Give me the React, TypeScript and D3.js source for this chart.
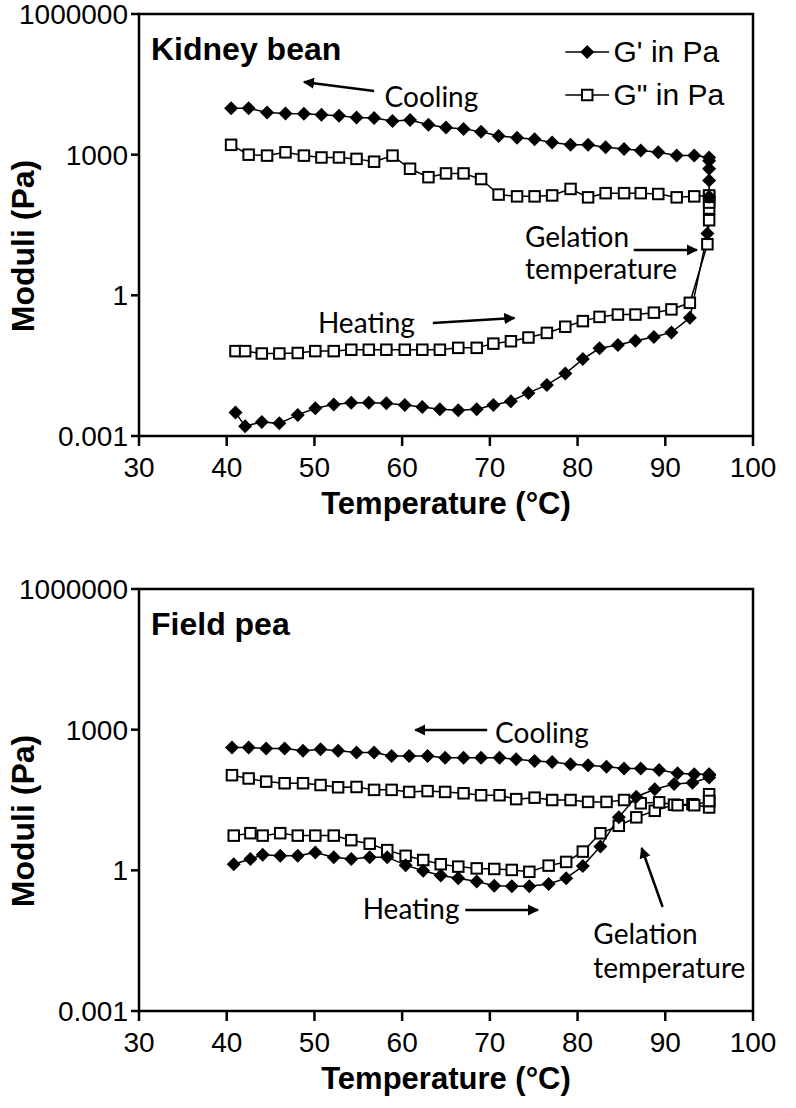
import React from 'react';
import * as d3 from 'd3';

// ---------- axes ----------
const xTicks = [30, 40, 50, 60, 70, 80, 90, 100];
const yTicks = [0.001, 1, 1000, 1000000];
const yTickLabels = ['0.001', '1', '1000', '1000000'];

// ---------- Kidney bean ----------
const kbHeatT = [41.0, 42.1, 44.0, 46.0, 48.1, 50.1, 52.2, 54.2, 56.2, 58.2, 60.3, 62.3, 64.3, 66.4, 68.5, 70.4, 72.4, 74.4, 76.5, 78.6, 80.6, 82.5, 84.6, 86.6, 88.7, 90.7, 92.8, 94.8];
const kbHeatG1 = [0.00316, 0.00162, 0.0020, 0.00186, 0.00282, 0.00389, 0.00468, 0.00513, 0.00513, 0.00501, 0.00457, 0.00417, 0.00372, 0.00355, 0.00372, 0.00457, 0.0055, 0.0083, 0.0123, 0.0214, 0.0437, 0.0741, 0.0871, 0.107, 0.129, 0.162, 0.331, 20.9];
const kbHeatG2 = [0.0646, 0.0646, 0.0575, 0.0575, 0.0589, 0.0646, 0.0646, 0.0692, 0.0692, 0.0692, 0.0692, 0.0692, 0.0692, 0.0759, 0.0759, 0.0933, 0.105, 0.126, 0.158, 0.214, 0.282, 0.347, 0.389, 0.389, 0.427, 0.501, 0.692, 12.3];
const kbHoldT = [95, 95, 95, 95];
const kbHoldG1 = [126, 282, 501, 741];
const kbHoldG2 = [40, 71, 95, 126];
const kbCoolT = [40.5, 42.5, 44.6, 46.7, 48.8, 50.8, 52.8, 54.8, 56.8, 58.9, 60.9, 63.0, 65.0, 67.0, 69.0, 71.0, 73.1, 75.1, 77.1, 79.2, 81.2, 83.2, 85.3, 87.2, 89.2, 91.3, 93.3, 95.0];
const kbCoolG1 = [9772, 9772, 7943, 7586, 7413, 7079, 6761, 6166, 6026, 5248, 5495, 4365, 3802, 3548, 3090, 2512, 2291, 2138, 1820, 1622, 1622, 1445, 1318, 1230, 1122, 955, 955, 871];
const kbCoolG2 = [1622, 1000, 955, 1122, 955, 871, 871, 813, 708, 955, 501, 331, 398, 398, 302, 141, 129, 129, 135, 186, 123, 151, 151, 151, 145, 123, 129, 135];

// ---------- Field pea ----------
const fpHeatT = [40.8, 42.7, 44.1, 46.1, 48.1, 50.1, 52.2, 54.2, 56.3, 58.3, 60.4, 62.4, 64.4, 66.4, 68.5, 70.5, 72.5, 74.5, 76.7, 78.7, 80.6, 82.6, 84.7, 86.7, 88.8, 91.0, 93.1, 95.0];
const fpHeatG1 = [1.35, 1.74, 2.14, 2.04, 2.04, 2.40, 1.91, 1.74, 1.91, 1.91, 1.29, 0.98, 0.78, 0.68, 0.58, 0.47, 0.46, 0.46, 0.51, 0.68, 1.23, 3.24, 13.5, 37.2, 53.7, 69.2, 74.1, 95.5];
const fpHeatG2 = [5.5, 6.2, 5.5, 6.2, 5.5, 5.5, 5.5, 4.4, 3.7, 2.7, 2.04, 1.66, 1.35, 1.20, 1.10, 1.07, 1.02, 0.93, 1.26, 1.51, 2.51, 6.17, 8.91, 13.5, 18.6, 25.1, 25.7, 21.9];
const fpHoldT = [95, 95];
const fpHoldG1 = [105, 110];
const fpHoldG2 = [30, 42];
const fpCoolT = [40.6, 42.5, 44.5, 46.6, 48.7, 50.7, 52.7, 54.8, 56.8, 58.8, 60.8, 62.9, 64.9, 67.0, 69.0, 71.1, 73.0, 75.1, 77.1, 79.2, 81.2, 83.3, 85.3, 87.2, 89.3, 91.4, 93.3, 95.0];
const fpCoolG1 = [417, 417, 398, 398, 355, 380, 355, 324, 324, 275, 275, 275, 251, 251, 251, 251, 234, 214, 204, 182, 174, 162, 148, 148, 138, 117, 112, 112];
const fpCoolG2 = [107, 91, 78, 72, 72, 66, 59, 60, 52, 52, 47, 49, 47, 44, 40, 40, 33, 35.5, 31.6, 31.6, 28.8, 28.8, 31.6, 26.9, 28.2, 24.5, 24.5, 30.2];

type Pt = [number, number];
const series = (hT: number[], hV: number[], oT: number[], oV: number[], cT: number[], cV: number[]): Pt[] => {
  const a: Pt[] = hT.map((t, i) => [t, hV[i]]);
  const b: Pt[] = oT.map((t, i) => [t, oV[i]]);
  const c: Pt[] = cT.map((t, i) => [t, cV[i]] as Pt).reverse();
  return [...a, ...b, ...c];
};

const PL = 139, PR = 753, PH = 422;
const ARIAL = '"Liberation Sans", Arial, sans-serif';
const CAL = 'Lato, "Open Sans", sans-serif';

// annotation x in °C, y in px below the plot top
type Ann = { text: string; t: number; y: number };
type Arrow = { t1: number; y1: number; t2: number; y2: number };

interface PanelProps {
  top: number;
  title: string;
  g1: Pt[];
  g2: Pt[];
  legend: boolean;
  anns: Ann[];
  arrows: Arrow[];
  id: string;
}

const Diamond = ({ x, y, r = 7 }: { x: number; y: number; r?: number }) => (
  <path d={`M${x},${y - r}L${x + r},${y}L${x},${y + r}L${x - r},${y}Z`} fill="#000" />
);
const Square = ({ x, y, s = 10.5 }: { x: number; y: number; s?: number }) => (
  <rect x={x - s / 2} y={y - s / 2} width={s} height={s} fill="#fff" stroke="#000" strokeWidth={2} />
);

const Panel = ({ top, title, g1, g2, legend, anns, arrows, id }: PanelProps) => {
  const x = d3.scaleLinear().domain([30, 100]).range([PL, PR]);
  const y = d3.scaleLog().domain([0.001, 1000000]).range([top + PH, top]);
  const line = d3.line<Pt>().x(d => x(d[0])).y(d => y(d[1]));
  const bottom = top + PH;
  return (
    <g>
      <defs>
        <marker id={`ah${id}`} viewBox="0 0 10 10" refX="9" refY="5" markerWidth="4.5" markerHeight="4.5" orient="auto-start-reverse" markerUnits="strokeWidth">
          <path d="M0,0L10,5L0,10Z" fill="#000" />
        </marker>
      </defs>
      <rect x={PL} y={top} width={PR - PL} height={PH} fill="none" stroke="#000" strokeWidth={2.5} />
      {yTicks.map((t, i) => (
        <g key={t}>
          <line x1={PL - 8} x2={PL} y1={y(t)} y2={y(t)} stroke="#000" strokeWidth={2.5} />
          <text x={PL - 11} y={y(t)} dy="0.36em" textAnchor="end" fontFamily={ARIAL} fontSize={28}>{yTickLabels[i]}</text>
        </g>
      ))}
      {xTicks.map(t => (
        <g key={t}>
          <line x1={x(t)} x2={x(t)} y1={bottom} y2={bottom + 10} stroke="#000" strokeWidth={2.5} />
          <text x={x(t)} y={bottom + 41} textAnchor="middle" fontFamily={ARIAL} fontSize={28}>{t}</text>
        </g>
      ))}
      <text x={(PL + PR) / 2} y={bottom + 78} textAnchor="middle" fontFamily={ARIAL} fontWeight="bold" fontSize={31}>Temperature (°C)</text>
      <text transform={`translate(34,${top + 232}) rotate(-90)`} textAnchor="middle" fontFamily={ARIAL} fontWeight="bold" fontSize={32}>Moduli (Pa)</text>
      <text x={PL + 12} y={top + 46} fontFamily={ARIAL} fontWeight="bold" fontSize={32}>{title}</text>

      <path d={line(g2) || ''} fill="none" stroke="#000" strokeWidth={1.5} />
      <path d={line(g1) || ''} fill="none" stroke="#000" strokeWidth={1.5} />
      {g2.map((d, i) => <Square key={'s' + i} x={x(d[0])} y={y(d[1])} />)}
      {g1.map((d, i) => <Diamond key={'d' + i} x={x(d[0])} y={y(d[1])} />)}

      {legend && (
        <g>
          <line x1={x(78.6)} x2={x(83.6)} y1={top + 38} y2={top + 38} stroke="#000" strokeWidth={1.5} />
          <Diamond x={x(81.1)} y={top + 38} />
          <text x={x(84.1)} y={top + 48} fontFamily={ARIAL} fontSize={30}>G' in Pa</text>
          <line x1={x(78.6)} x2={x(83.6)} y1={top + 81} y2={top + 81} stroke="#000" strokeWidth={1.5} />
          <Square x={x(81.1)} y={top + 81} />
          <text x={x(84.1)} y={top + 91} fontFamily={ARIAL} fontSize={30}>G" in Pa</text>
        </g>
      )}
      {anns.map((a, i) => (
        <text key={'a' + i} x={x(a.t)} y={top + a.y} fontFamily={CAL} fontSize={28}>{a.text}</text>
      ))}
      {arrows.map((a, i) => (
        <line key={'r' + i} x1={x(a.t1)} y1={top + a.y1} x2={x(a.t2)} y2={top + a.y2} stroke="#000" strokeWidth={2.5} markerEnd={`url(#ah${id})`} />
      ))}
    </g>
  );
};

export default function App() {
  const kbG1 = series(kbHeatT, kbHeatG1, kbHoldT, kbHoldG1, kbCoolT, kbCoolG1);
  const kbG2 = series(kbHeatT, kbHeatG2, kbHoldT, kbHoldG2, kbCoolT, kbCoolG2);
  const fpG1 = series(fpHeatT, fpHeatG1, fpHoldT, fpHoldG1, fpCoolT, fpCoolG1);
  const fpG2 = series(fpHeatT, fpHeatG2, fpHoldT, fpHoldG2, fpCoolT, fpCoolG2);
  return (
    <svg width={796} height={1108} style={{ position: 'absolute', left: 0, top: 0, background: '#fff' }}>
      <rect width={796} height={1108} fill="#fff" />
      <Panel
        id="kb" top={14} title="Kidney bean" g1={kbG1} g2={kbG2} legend
        anns={[
          { text: 'Cooling', t: 58.0, y: 93 },
          { text: 'Gelation', t: 74.0, y: 233 },
          { text: 'temperature', t: 74.0, y: 265 },
          { text: 'Heating', t: 50.4, y: 319 },
        ]}
        arrows={[
          { t1: 56.8, y1: 77, t2: 48.8, y2: 68 },
          { t1: 86.4, y1: 236, t2: 93.6, y2: 236 },
          { t1: 63.5, y1: 309, t2: 72.8, y2: 304 },
        ]}
      />
      <Panel
        id="fp" top={589} title="Field pea" g1={fpG1} g2={fpG2} legend={false}
        anns={[
          { text: 'Cooling', t: 70.6, y: 154 },
          { text: 'Heating', t: 55.5, y: 330 },
          { text: 'Gelation', t: 81.8, y: 355 },
          { text: 'temperature', t: 81.8, y: 389 },
        ]}
        arrows={[
          { t1: 69.7, y1: 141, t2: 61.5, y2: 141 },
          { t1: 67.2, y1: 321, t2: 75.5, y2: 321 },
          { t1: 89.7, y1: 318, t2: 87.3, y2: 259 },
        ]}
      />
    </svg>
  );
}
